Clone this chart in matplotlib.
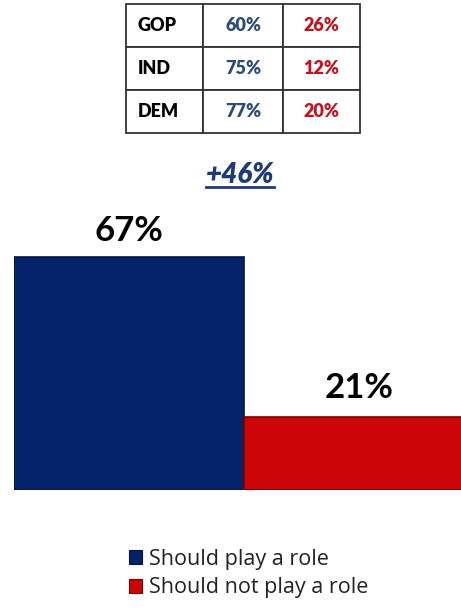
import matplotlib.pyplot as plt
from matplotlib.patches import Patch
from matplotlib.lines import Line2D

plt.rcParams['font.family'] = ['Lato', 'DejaVu Sans']

# data
answers = ['Should play a role', 'Should not play a role']
overall = [67, 21]
parties = ['GOP', 'IND', 'DEM']
play_role = [60, 75, 77]
not_play_role = [26, 12, 20]
margin = '+46%'

navy = '#05236a'
red = '#cc0606'
tbl_blue = '#2a4a78'
tbl_red = '#c8101a'

fig = plt.figure(figsize=(4.61, 6.13), dpi=100)

# bars
ax = fig.add_axes([14/461, 1-490/613, 447/461, 278/613])
colors = [navy, red]
edges = ['#021544', '#7a0202']
bars = ax.bar(range(len(overall)), overall, width=1, align='edge',
              color=colors, edgecolor=edges, linewidth=1.2)
ax.set_xlim(0, 447/230)
ax.set_ylim(0, 80)
ax.axis('off')
for b, v, off in zip(bars, overall, [12, 13.5]):
    ax.annotate(f'{v}%', (b.get_x() + b.get_width()/2, v), xytext=(0, off),
                textcoords='offset points', ha='center', va='baseline',
                fontsize=25, fontweight='bold', color='black', clip_on=False)

# margin text with underline
t = fig.text(240/461, 1-183/613, margin, ha='center', va='baseline',
             fontsize=20, fontweight='heavy', fontstyle='italic', color='#1f3a78')
fig.canvas.draw()
bb = t.get_window_extent().transformed(fig.transFigure.inverted())
fig.add_artist(Line2D([bb.x0, bb.x1], [1-187/613]*2, color='#1f3a78', lw=2,
                      transform=fig.transFigure))

# table
tax = fig.add_axes([126/461, 1-133/613, 234/461, 129/613])
tax.axis('off')
cells = [[p, f'{a}%', f'{b}%'] for p, a, b in zip(parties, play_role, not_play_role)]
tbl = tax.table(cellText=cells, bbox=[0, 0, 1, 1], colWidths=[77, 80, 77])
tbl.auto_set_font_size(False)
for (r, c), cell in tbl.get_celld().items():
    cell.set_edgecolor('#333333')
    cell.set_linewidth(1.3)
    if c == 0:
        cell.PAD = 0.15
        cell.set_text_props(ha='left', color='black', fontsize=13, weight='heavy')
    else:
        cell.set_text_props(ha='center', color=tbl_blue if c == 1 else tbl_red,
                            fontsize=13, weight='heavy')

# legend
handles = [Patch(facecolor=c, edgecolor=e, linewidth=0.8) for c, e in zip(colors, edges)]
fig.legend(handles, answers, loc='upper left',
           bbox_to_anchor=(118/461, 1-538/613), frameon=False,
           prop={'family': 'Open Sans', 'size': 15.5},
           handlelength=0.6, handleheight=0.6,
           handletextpad=0.35, labelspacing=0.35, borderpad=0,
           labelcolor='#222222')

fig.savefig('out.png', dpi=100)
